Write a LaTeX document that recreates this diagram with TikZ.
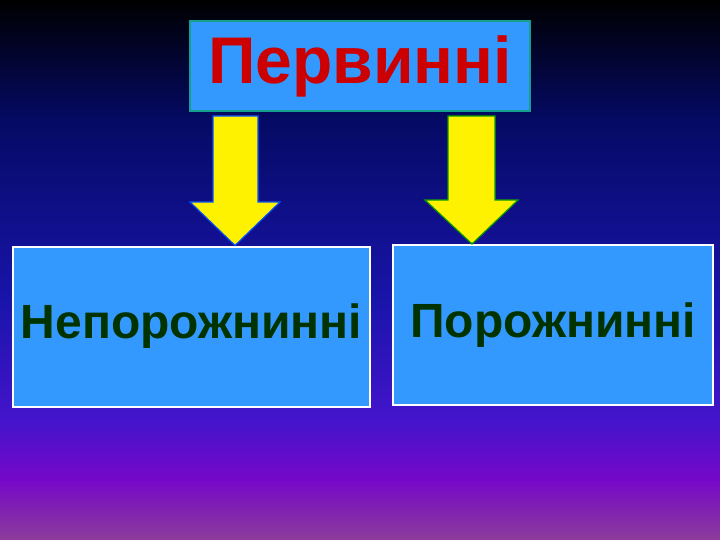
\documentclass[tikz,border=0pt]{standalone}
\usepackage{fontspec}
\setmainfont{Liberation Sans}
\usepackage{xcolor}
\usetikzlibrary{positioning}
\definecolor{boxblue}{RGB}{51,153,255}
\definecolor{titlered}{RGB}{204,0,0}
\definecolor{leafgreen}{RGB}{0,51,0}
\definecolor{rimteal}{RGB}{20,160,140}
\definecolor{bgnavy}{RGB}{5,10,100}
\definecolor{bgblue}{RGB}{25,20,170}
\definecolor{bgviolet}{RGB}{68,20,204}
\definecolor{bgpurple}{RGB}{118,8,200}
\definecolor{bgplum}{RGB}{140,60,155}
\tikzset{top box/.style = {draw=rimteal,line width=1.5pt,fill=boxblue,minimum width=340pt,minimum height=90pt,font=\fontsize{66}{70}\selectfont\bfseries,text=titlered},
         leaf box/.style = {draw=white,line width=2pt,fill=boxblue,minimum height=160pt,font=\fontsize{48}{52}\selectfont\bfseries,text=leafgreen},
         block arrow/.style = {fill=yellow,line width=1.2pt,line join=miter}}

\begin{document}
\begin{tikzpicture}[x=1pt,y=-1pt]
                % background
                \shade[top color=black,bottom color=bgnavy] (0,0) rectangle (720,120);
                \shade[top color=bgnavy,bottom color=bgblue] (0,120) rectangle (720,300);
                \shade[top color=bgblue,bottom color=bgviolet] (0,300) rectangle (720,420);
                \shade[top color=bgviolet,bottom color=bgpurple] (0,420) rectangle (720,480);
                \shade[top color=bgpurple,bottom color=bgplum] (0,480) rectangle (720,540);
                \useasboundingbox (0,0) rectangle (720,540);

                \node[top box] (first) at (360,66) {Первинні};
                \node[leaf box, minimum width=357pt] (solid) at (191.5,326.5) {Непорожнинні};
                \node[leaf box, minimum width=320pt] (hollow) at (553,325) {Порожнинні};

                % block arrows, a little below the top box
                \draw[block arrow, draw=blue!70!cyan] (213,116) -- (258,116) -- (258,202) -- (280,202)
                    -- (235,0 |- solid.north) -- (190,202) -- (213,202) -- cycle;
                \draw[block arrow, draw=green!60!black] (448,116) -- (495,116) -- (495,200) -- (518,200)
                    -- (472,0 |- hollow.north) -- (425,200) -- (448,200) -- cycle;
            \end{tikzpicture}
\end{document}
